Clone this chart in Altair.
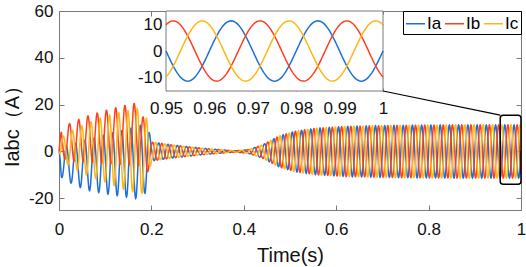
import numpy as np
import pandas as pd
import altair as alt

# ---------------- data ----------------
PHASES = ["Ia", "Ib", "Ic"]
COLORS = ["#1C6FD8", "#FF3F1F", "#FFB514"]
SHIFT_DEG = [0, -120, 120]
FREQ_HZ = 50

# start-up transient (0 - 0.2 s): upper / lower envelopes per phase
T_START = [0.0, 0.005, 0.03, 0.06, 0.10, 0.14, 0.175, 0.19, 0.20]
IA_UP_START = [0, 1.5, 3, 5, 7, 9, 11, 13, 4]
IA_LO_START = [0, -11, -14, -16.5, -18, -19.3, -20.3, -17, -4]
IB_UP_START = [0, 10, 12.7, 15, 17.5, 19.5, 21, 8, 4]
IB_LO_START = [0, -3, -4, -4.5, -5, -5.5, -6, -10, -4]
IC_UP_START = [0, 6, 9, 12, 15, 17, 18.5, 14, 4]
IC_LO_START = [0, -4, -7, -10, -13, -16, -18, -17.5, -4]

# after 0.2 s: common amplitude envelope
T_LATE = [0.20, 0.21, 0.245, 0.32, 0.38, 0.41, 0.44, 0.477, 0.513, 0.557, 0.622, 0.73, 0.85, 1.0]
AMP_LATE = [4, 3.8, 2.8, 1.2, 0.3, 0.8, 2.8, 6.7, 8.7, 9.9, 10.7, 11.1, 11.3, 11.3]

# carrier phase (in multiples of pi)
PHASE_T = [0.0, 0.30, 0.45, 1.0]
PHASE_PI = [0.9, 0.9, 0.0, 0.0]

X_DOMAIN = [0, 1]
Y_DOMAIN = [-25, 60]
X_TICKS = [0, 0.2, 0.4, 0.6, 0.8, 1]
Y_TICKS = [-20, 0, 20, 40, 60]

INSET_X_DOMAIN = [0.95, 1.0]
INSET_Y_DOMAIN = [-15, 15]
INSET_X_TICKS = [0.95, 0.96, 0.97, 0.98, 0.99, 1.0]
INSET_Y_TICKS = [-10, 0, 10]

BOX_T = [0.955, 1.0]
BOX_I = [-14, 15.5]

# ---------------- layout ----------------
PLOT_W, PLOT_H = 462, 199
INSET_RANGE_X = [107, 324]
INSET_RANGE_Y = [80, 0]
FRAME = "#7a7a7a"
FONT = "Liberation Sans"

START_ENV = {
    "Ia": (IA_UP_START, IA_LO_START),
    "Ib": (IB_UP_START, IB_LO_START),
    "Ic": (IC_UP_START, IC_LO_START),
}


def wave(t, name, shift_deg):
    up_s, lo_s = START_ENV[name]
    amp_late = np.interp(t, T_LATE, AMP_LATE)
    up = np.where(t <= 0.2, np.interp(t, T_START, up_s), amp_late)
    lo = np.where(t <= 0.2, np.interp(t, T_START, lo_s), -amp_late)
    mid = (up + lo) / 2
    half = (up - lo) / 2
    phi = np.interp(t, PHASE_T, PHASE_PI) * np.pi
    return mid + half * np.sin(2 * np.pi * FREQ_HZ * t + phi + np.deg2rad(shift_deg))


def build(t):
    frames = []
    for name, sh in zip(PHASES, SHIFT_DEG):
        frames.append(pd.DataFrame({"t": t, "I": wave(t, name, sh), "phase": name}))
    return pd.concat(frames, ignore_index=True)


main_df = build(np.round(np.arange(0, 1.00001, 0.0005), 5))
inset_df = build(np.round(np.arange(0.95, 1.00001, 0.00025), 6))

box_df = pd.DataFrame({"t": [BOX_T[0]], "t2": [BOX_T[1]], "I": [BOX_I[0]], "I2": [BOX_I[1]]})
corner_t = X_DOMAIN[0] + INSET_RANGE_X[1] / PLOT_W * (X_DOMAIN[1] - X_DOMAIN[0])
corner_I = Y_DOMAIN[1] - INSET_RANGE_Y[0] / PLOT_H * (Y_DOMAIN[1] - Y_DOMAIN[0])
conn_df = pd.DataFrame({"t": [corner_t], "I": [corner_I], "t2": [BOX_T[0]], "I2": [BOX_I[1]]})
inset_frame_df = pd.DataFrame({"t": [INSET_X_DOMAIN[0]], "t2": [INSET_X_DOMAIN[1]],
                               "I": [INSET_Y_DOMAIN[0]], "I2": [INSET_Y_DOMAIN[1]]})
dummy_df = pd.DataFrame({"t": INSET_X_DOMAIN, "I": INSET_Y_DOMAIN})


def mscale_x():
    return alt.Scale(domain=X_DOMAIN, nice=False, zero=False)


def mscale_y():
    return alt.Scale(domain=Y_DOMAIN, nice=False, zero=False)


def iscale_x():
    return alt.Scale(domain=INSET_X_DOMAIN, range=INSET_RANGE_X, nice=False, zero=False)


def iscale_y():
    return alt.Scale(domain=INSET_Y_DOMAIN, range=INSET_RANGE_Y, nice=False, zero=False)


def tick_axis(orient, offset, values, size):
    return alt.Axis(orient=orient, offset=offset, values=values, labels=False, domain=False,
                    ticks=True, tickSize=size, tickColor=FRAME, tickWidth=1, grid=False, title=None)


LABEL_EXPR = "datum.value + ''"

# main lines
main = alt.Chart(main_df).mark_line(strokeWidth=1.5).encode(
    x=alt.X("t:Q", scale=mscale_x(), axis=alt.Axis(
        orient="bottom", values=X_TICKS, labelExpr=LABEL_EXPR, labelFontSize=17, labelPadding=11,
        ticks=False, tickSize=0, domain=False, grid=False, labelFlush=False, labelOverlap=False,
        title="Time(s)", titleFontSize=20, titleFontWeight="normal", titleX=231, titleY=51,
        titleAlign="center", titleBaseline="alphabetic")),
    y=alt.Y("I:Q", scale=mscale_y(), axis=alt.Axis(
        orient="left", values=Y_TICKS, labelExpr=LABEL_EXPR, labelFontSize=17, labelPadding=6,
        ticks=False, tickSize=0, domain=False, grid=False, labelFlush=False, labelOverlap=False,
        title="Iabc（A）", titleFontSize=20, titleFontWeight="normal", titleAngle=270,
        titleX=-41, titleY=110, titleAlign="center", titleBaseline="alphabetic")),
    color=alt.Color("phase:N", scale=alt.Scale(domain=PHASES, range=COLORS), legend=alt.Legend(
        title=None, orient="top-right", offset=0, direction="horizontal", symbolType="stroke",
        symbolSize=361, symbolStrokeWidth=1.5, labelFontSize=17, labelOffset=1, columnPadding=0,
        padding=2, strokeColor="black", fillColor="white", labelFont=FONT, labelColor="black")),
    detail="phase:N",
)

# zoom box in main plot (also carries inward ticks at bottom & left edges)
box = alt.Chart(box_df).mark_rect(fillOpacity=0, stroke="black", strokeWidth=1.5, cornerRadius=3).encode(
    x=alt.X("t:Q", scale=mscale_x(), axis=tick_axis("top", -PLOT_H, X_TICKS, 5)),
    x2="t2:Q",
    y=alt.Y("I:Q", scale=mscale_y(), axis=tick_axis("right", -PLOT_W, Y_TICKS, 5)),
    y2="I2:Q",
)

# connector line (also carries inward ticks at top & right edges)
conn = alt.Chart(conn_df).mark_rule(color="black", strokeWidth=1.2).encode(
    x=alt.X("t:Q", scale=mscale_x(), axis=tick_axis("bottom", -PLOT_H, X_TICKS, 5)),
    x2="t2:Q",
    y=alt.Y("I:Q", scale=mscale_y(), axis=tick_axis("left", -PLOT_W, Y_TICKS, 5)),
    y2="I2:Q",
)

# inset frame (inward ticks at inset bottom & left)
inset_frame = alt.Chart(inset_frame_df).mark_rect(fill="white", stroke=FRAME, strokeWidth=1).encode(
    x=alt.X("t:Q", scale=iscale_x(),
            axis=tick_axis("top", -INSET_RANGE_Y[0], INSET_X_TICKS, 3)),
    x2="t2:Q",
    y=alt.Y("I:Q", scale=iscale_y(),
            axis=tick_axis("right", INSET_RANGE_X[0] - PLOT_W, INSET_Y_TICKS, 3)),
    y2="I2:Q",
)

# inset lines with labels
inset = alt.Chart(inset_df).mark_line(strokeWidth=1.5).encode(
    x=alt.X("t:Q", scale=iscale_x(), axis=alt.Axis(
        orient="bottom", offset=INSET_RANGE_Y[0] - PLOT_H, values=INSET_X_TICKS, labelExpr=LABEL_EXPR,
        labelFontSize=17, labelPadding=9, ticks=False, tickSize=0, domain=False, grid=False,
        labelFlush=False, labelOverlap=False, title=None)),
    y=alt.Y("I:Q", scale=iscale_y(), axis=alt.Axis(
        orient="left", offset=-INSET_RANGE_X[0], values=INSET_Y_TICKS, labelExpr=LABEL_EXPR,
        labelFontSize=17, labelPadding=4, ticks=False, tickSize=0, domain=False, grid=False,
        labelFlush=False, labelOverlap=False, title=None)),
    color=alt.Color("phase:N", scale=alt.Scale(domain=PHASES, range=COLORS), legend=None),
    detail="phase:N",
)

# invisible helper (inward ticks at inset top & right)
inset_ticks = alt.Chart(dummy_df).mark_point(opacity=0).encode(
    x=alt.X("t:Q", scale=iscale_x(), axis=tick_axis("bottom", -PLOT_H, INSET_X_TICKS, 3)),
    y=alt.Y("I:Q", scale=iscale_y(),
            axis=tick_axis("left", -INSET_RANGE_X[1], INSET_Y_TICKS, 3)),
)

chart = (
    alt.layer(main, box, conn, inset_frame, inset, inset_ticks)
    .resolve_scale(x="independent", y="independent", color="shared")
    .properties(
        width=PLOT_W, height=PLOT_H,
        padding={"left": 59, "top": 11, "right": 5, "bottom": 57},
        autosize=alt.AutoSizeParams(type="none"),
    )
    .configure(font=FONT, background="white")
    .configure_view(stroke=FRAME, strokeWidth=1)
    .configure_axis(labelFont=FONT, titleFont=FONT, labelColor="#111111", titleColor="#111111")
)

chart.save("out.html", embed_options={"renderer": "svg", "actions": False})
